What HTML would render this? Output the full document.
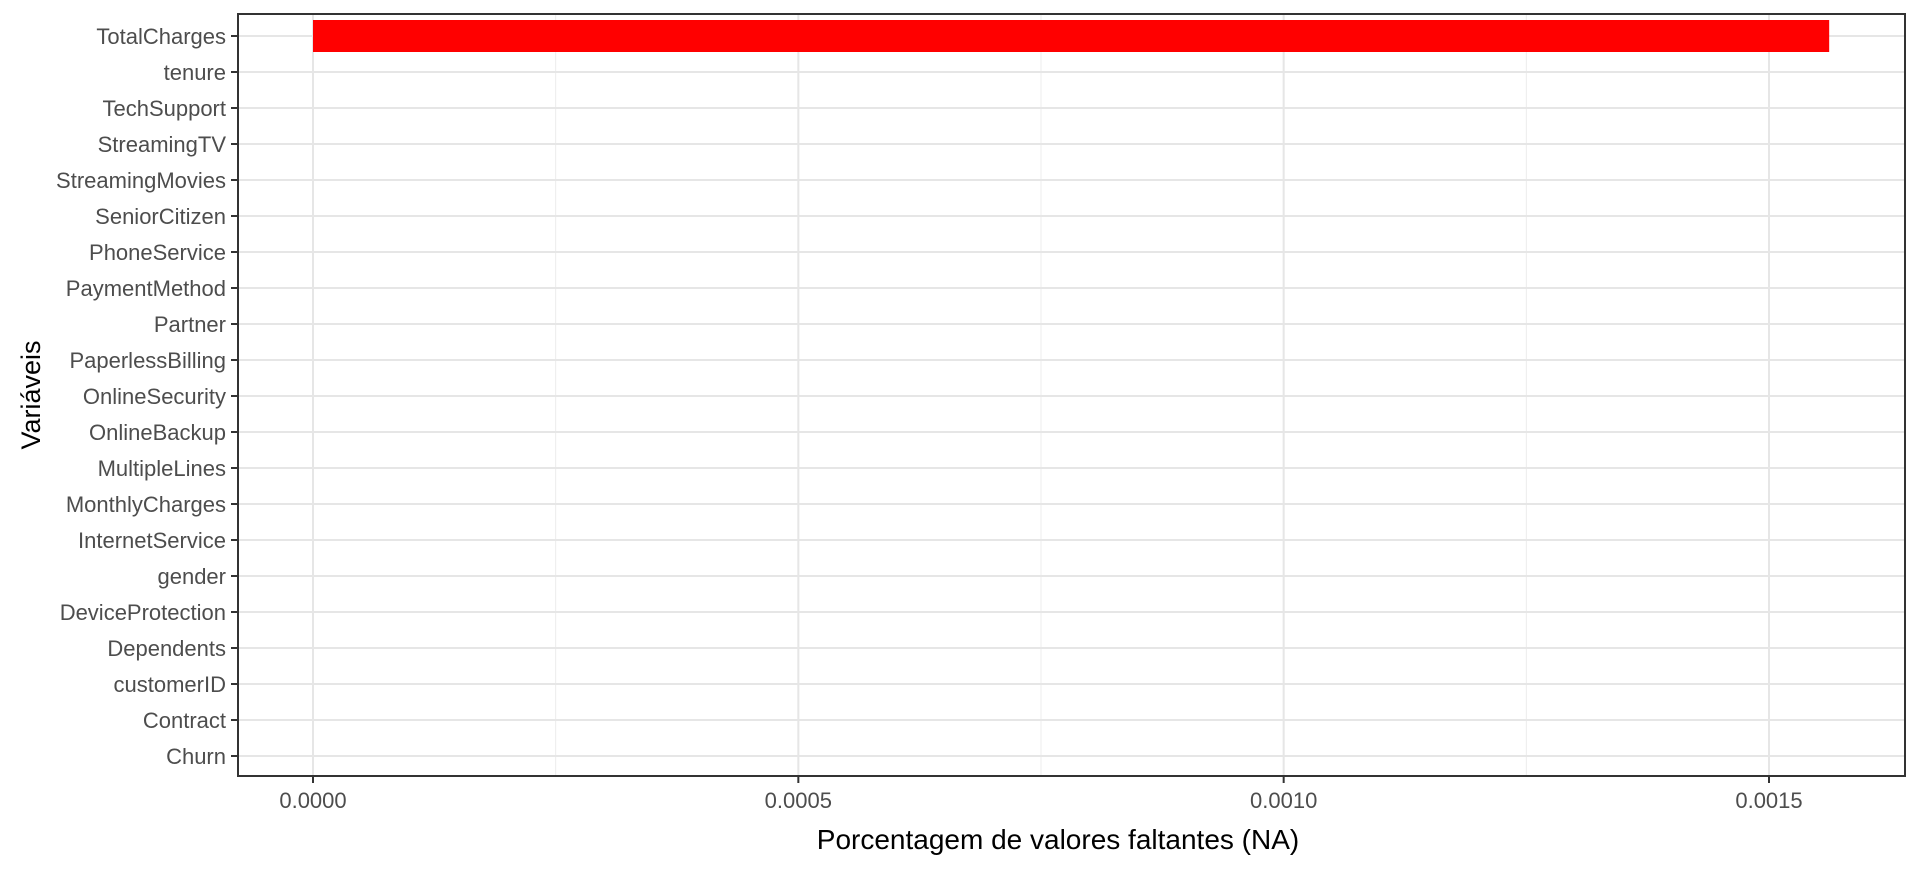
<!DOCTYPE html>
<html><head><meta charset="utf-8"><style>
body{margin:0;background:#fff;font-family:"Liberation Sans",Arial,sans-serif;}
svg text{font-family:"Liberation Sans",Arial,sans-serif;}
</style></head><body>
<svg id="chart" width="1920" height="864" xmlns="http://www.w3.org/2000/svg"></svg>
<script>
const categories=["TotalCharges","tenure","TechSupport","StreamingTV","StreamingMovies","SeniorCitizen","PhoneService","PaymentMethod","Partner","PaperlessBilling","OnlineSecurity","OnlineBackup","MultipleLines","MonthlyCharges","InternetService","gender","DeviceProtection","Dependents","customerID","Contract","Churn"];
const values=[0.001562,0,0,0,0,0,0,0,0,0,0,0,0,0,0,0,0,0,0,0,0];
const xTicks=[0,0.0005,0.001,0.0015];
const xTickLabels=["0.0000","0.0005","0.0010","0.0015"];
const xMinor=[0.00025,0.00075,0.00125];

const svg=document.getElementById('chart');
const NS="http://www.w3.org/2000/svg";
const L=238,R=1905,T=14,B=776;
const x0=313,pxPer=(1769-313)/0.0015;
const X=v=>x0+v*pxPer;
const rowTop=36,rowStep=36;
const Y=i=>rowTop+i*rowStep;
function mk(tag,attrs,parent){const e=document.createElementNS(NS,tag);for(const k in attrs)e.setAttribute(k,attrs[k]);(parent||svg).appendChild(e);return e;}

const grid=mk('g',{});


xMinor.forEach(v=>mk('line',{x1:X(v),x2:X(v),y1:T,y2:B,stroke:'#ececec','stroke-width':1},grid));
xTicks.forEach(v=>mk('line',{x1:X(v),x2:X(v),y1:T,y2:B,stroke:'#e6e6e6','stroke-width':2},grid));
categories.forEach((c,i)=>mk('line',{x1:L,x2:R,y1:Y(i),y2:Y(i),stroke:'#e6e6e6','stroke-width':2},grid));

categories.forEach((c,i)=>{
  if(values[i]>0){
    const r=mk('rect',{x:X(0),y:Y(i)-16,width:X(values[i])-X(0),height:32,fill:'#ff0000'});
    
    
  }
  mk('line',{x1:L-7,x2:L,y1:Y(i),y2:Y(i),stroke:'#333','stroke-width':2});
  const t=mk('text',{x:L-12,y:Y(i)+8,'text-anchor':'end','font-size':22,fill:'#4d4d4d'});
  t.textContent=c;
  
  
});
xTicks.forEach((v,i)=>{
  mk('line',{x1:X(v),x2:X(v),y1:B,y2:B+7,stroke:'#333','stroke-width':2});
  const t=mk('text',{x:X(v),y:B+32,'text-anchor':'middle','font-size':22,fill:'#4d4d4d'});
  t.textContent=xTickLabels[i];
  
  
});
const frame=mk('rect',{x:L,y:T,width:R-L,height:B-T,fill:'none',stroke:'#333','stroke-width':2});


const xt=mk('text',{x:1058,y:849,'text-anchor':'middle','font-size':28,fill:'#000'});
xt.textContent='Porcentagem de valores faltantes (NA)';


const yt=mk('text',{x:0,y:0,'text-anchor':'middle','font-size':27,fill:'#000',transform:'translate(40,'+((T+B)/2)+') rotate(-90)'});
yt.textContent='Variáveis';


</script>
</body></html>
